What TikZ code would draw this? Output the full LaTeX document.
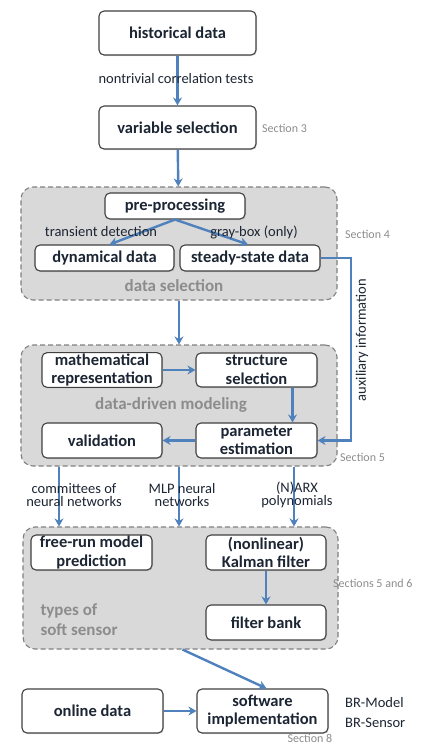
\documentclass[tikz,border=0pt]{standalone}
\usepackage{fontspec}
\setmainfont{Carlito}
\usepackage{tikz}
\usetikzlibrary{arrows.meta,shadows}

\definecolor{flowblue}{RGB}{79,129,189}
\definecolor{boxline}{RGB}{64,64,64}
\definecolor{boxtext}{RGB}{28,37,51}
\definecolor{grpfill}{RGB}{217,217,217}
\definecolor{grpline}{RGB}{128,128,128}
\definecolor{grptext}{RGB}{140,140,140}

\tikzset{
    stepbox/.style={draw=boxline, line width=1.1pt, fill=white, rounded corners=5pt,
        text=boxtext, align=center, inner sep=1pt,
        font=\bfseries\fontsize{16.5}{18.5}\selectfont,
        drop shadow={opacity=.25, shadow xshift=1pt, shadow yshift=-1pt}},
    group/.style={draw=grpline, line width=1.1pt, dashed, dash pattern=on 5pt off 3pt,
        fill=grpfill, rounded corners=12pt, inner sep=0pt},
    grouplabel/.style={text=grptext, font=\bfseries\fontsize{17}{20}\selectfont},
    edgelabel/.style={text=boxtext, align=center, inner sep=0pt,
        font=\fontsize{14.5}{13.5}\selectfont},
    seclabel/.style={text=grptext, inner sep=0pt, font=\fontsize{12}{14}\selectfont},
    flow/.style={draw=flowblue, line width=2.4pt, -{Stealth[length=8pt,width=9pt]}},
}

\begin{document}
\begin{tikzpicture}[x=1pt, y=-1pt]
    \useasboundingbox (0,0) rectangle (430,745);

    % Gruppen.
    \node[group, minimum width=316pt, minimum height=113pt] (dsel) at (179,243.5) {};
    \node[group, minimum width=316pt, minimum height=121pt] (ddm) at (179,405.5) {};
    \node[group, minimum width=315pt, minimum height=122pt] (types) at (180.5,588) {};

    % Kaesten.
    \node[stepbox, minimum width=157pt, minimum height=44pt] (hist) at (177.5,33) {historical data};
    \node[stepbox, minimum width=157pt, minimum height=43pt] (varsel) at (177.5,127.5) {variable selection};
    \node[stepbox, minimum width=140pt, minimum height=26pt] (prep) at (175,206) {pre-processing};
    \node[stepbox, minimum width=139pt, minimum height=26pt] (dyn) at (104.5,258) {dynamical data};
    \node[stepbox, minimum width=140pt, minimum height=26pt] (steady) at (250,258) {steady-state data};
    \node[stepbox, minimum width=120pt, minimum height=34pt] (math) at (102,370) {mathematical\\representation};
    \node[stepbox, minimum width=121pt, minimum height=34pt] (struct) at (256.5,370) {structure\\selection};
    \node[stepbox, minimum width=120pt, minimum height=35pt] (valid) at (102,440.5) {validation};
    \node[stepbox, minimum width=121pt, minimum height=35pt] (param) at (256.5,440.5) {parameter\\estimation};
    \node[stepbox, minimum width=121pt, minimum height=35pt] (free) at (91.5,552.5) {free-run model\\prediction};
    \node[stepbox, minimum width=120pt, minimum height=35pt] (kalman) at (266,552.5) {(nonlinear)\\Kalman filter};
    \node[stepbox, minimum width=120pt, minimum height=35pt] (fbank) at (266,622.5) {filter bank};
    \node[stepbox, minimum width=141pt, minimum height=44pt] (online) at (92.5,711) {online data};
    \node[stepbox, minimum width=131pt, minimum height=44pt] (soft) at (262.5,711) {software\\implementation};

    % Hilfspunkte.
    \coordinate (aux) at (351,350);
    \coordinate (c1) at (59,495);
    \coordinate (c2) at (179,495);
    \coordinate (c3) at (294,495);

    % Pfeile.
    \draw[flow] (hist) -- (varsel);
    \draw[flow] (varsel) -- (dsel);
    \draw[flow] (prep.south) -- ([xshift=5pt]dyn.north);
    \draw[flow] (prep.south) -- ([xshift=-2pt]steady.north);
    \draw[flow] (steady.east) -| (aux) |- (param.east);
    \draw[flow] (dsel) -- (ddm);
    \draw[flow] (math) -- (struct);
    \draw[flow] ([xshift=36pt]struct.south) -- ([xshift=36pt]param.north);
    \draw[flow] (param) -- (valid);
    \foreach \c in {c1,c2,c3}
    {
        \draw[flow] (ddm.south -| \c) -- (types.north -| \c);
    }
    \draw[flow] (kalman) -- (fbank);
    \draw[flow] ([xshift=2pt]types.south) -- ([xshift=4pt]soft.north);
    \draw[flow] (online) -- (soft);

    % Beschriftung.
    \node[edgelabel] (corr) at (176,79) {nontrivial correlation tests};
    \node[edgelabel] (trans) at (101,232) {transient detection};
    \node[edgelabel] (gray) at (254,232) {gray-box (only)};
    \node[edgelabel, rotate=90] (auxinfo) at (362,340) {auxiliary information};
    \node[edgelabel] (comm) at (74,495) {committees of\\neural networks};
    \node[edgelabel] (mlp) at (182,495) {MLP neural\\networks};
    \node[edgelabel] (narx) at (297,495) {(N)ARX\\polynomials};
    \node[edgelabel, anchor=west] (brmodel) at (345,703) {BR-Model};
    \node[edgelabel, anchor=west] (brsensor) at (345,723) {BR-Sensor};

    \node[grouplabel] (dsellab) at (174,286) {data selection};
    \node[grouplabel] (ddmlab) at (171,405) {data-driven modeling};
    \node[grouplabel, align=left, anchor=west] (typeslab) at (37,620) {types of\\soft sensor};

    \node[seclabel, anchor=west] (sec3) at (262,128) {Section 3};
    \node[seclabel, anchor=west] (sec4) at (345,234) {Section 4};
    \node[seclabel, anchor=west] (sec5) at (340,457) {Section 5};
    \node[seclabel, anchor=west] (sec56) at (333,583) {Sections 5 and 6};
    \node[seclabel, anchor=base] (sec8) at (310,742) {Section 8};
\end{tikzpicture}
\end{document}
